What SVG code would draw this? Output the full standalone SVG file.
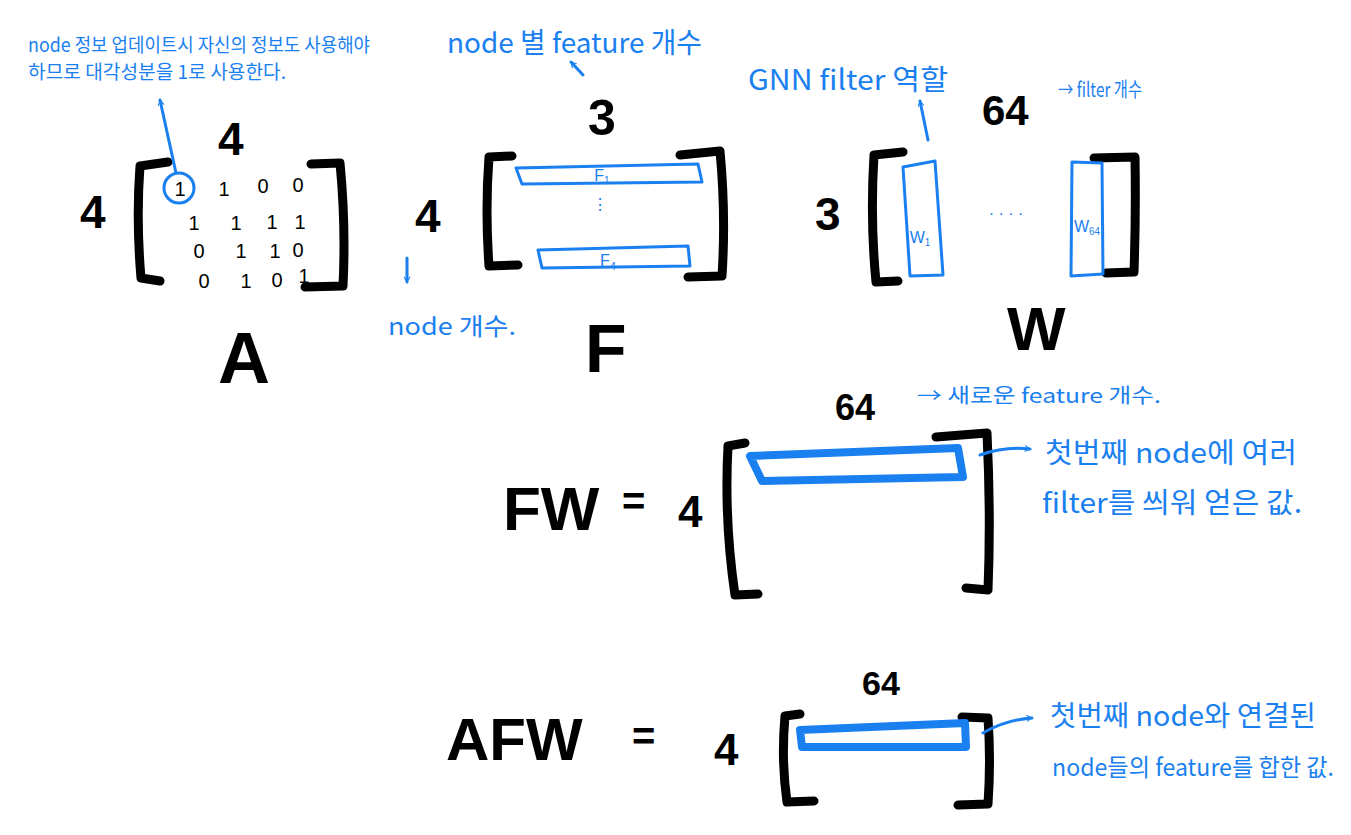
<svg xmlns="http://www.w3.org/2000/svg" width="1351" height="835" viewBox="0 0 1351 835">
<style>
.bk{fill:none;stroke:#000;stroke-width:9;stroke-linecap:round;stroke-linejoin:round}
.bl{fill:none;stroke:#1a80f0;stroke-width:3;stroke-linecap:round;stroke-linejoin:round}
.blt{fill:none;stroke:#1a80f0;stroke-width:8;stroke-linecap:round;stroke-linejoin:round}
.note{fill:#1a80f0;font-family:"Noto Sans CJK KR","Noto Sans",sans-serif;}
.big{fill:#000;font-family:"Liberation Sans","Noto Sans",sans-serif;font-weight:bold}
.ent{fill:#000;font-family:"Liberation Sans",sans-serif;font-size:20px;text-anchor:middle}
.sub{fill:#1a80f0;font-family:"Liberation Sans",sans-serif;font-size:16px;text-anchor:middle}
</style>
<rect width="1351" height="835" fill="#fff"/>
<defs>
<marker id="ah" viewBox="0 0 10 10" refX="8" refY="5" markerWidth="7" markerHeight="7" orient="auto-start-reverse" markerUnits="userSpaceOnUse">
<path d="M1,1 L8,5 L1,9" fill="none" stroke="#1a80f0" stroke-width="1.6" stroke-linecap="round"/>
</marker>
</defs>

<g id="matrix-A">
<path class="bk" d="M168,162 L140,166 Q136,220 141,278 L160,281"/>
<path class="bk" d="M311,164 L340,163 Q346,225 343,286 L305,287"/>
<text class="big" x="218" y="155" font-size="46">4</text>
<text class="big" x="80" y="228" font-size="46">4</text>
<text class="big" x="218" y="383" font-size="72">A</text>
<text class="ent" x="180" y="196">1</text>
<text class="ent" x="224" y="196">1</text>
<text class="ent" x="263" y="193">0</text>
<text class="ent" x="298" y="192">0</text>
<text class="ent" x="194" y="230">1</text>
<text class="ent" x="236" y="230">1</text>
<text class="ent" x="272" y="229">1</text>
<text class="ent" x="300" y="229">1</text>
<text class="ent" x="199" y="258">0</text>
<text class="ent" x="241" y="258">1</text>
<text class="ent" x="275" y="258">1</text>
<text class="ent" x="298" y="257">0</text>
<text class="ent" x="204" y="288">0</text>
<text class="ent" x="246" y="288">1</text>
<text class="ent" x="277" y="287">0</text>
<text class="ent" x="304" y="283">1</text>
<circle class="bl" cx="179" cy="188" r="15"/>
</g>

<g id="matrix-F">
<path class="bk" d="M512,156 L489,157 Q485,210 489,266 L518,265"/>
<path class="bk" d="M680,155 L720,151 Q726,215 722,276 L688,277"/>
<text class="big" x="588" y="135" font-size="50">3</text>
<text class="big" x="415" y="232" font-size="46">4</text>
<text class="big" x="585" y="372" font-size="68">F</text>
<path class="bl" d="M516,168 L698,164 L702,182 L522,184 Z"/>
<text class="sub" x="602" y="181">F<tspan font-size="10" dy="3">1</tspan></text>
<text class="sub" x="600" y="210" font-size="14">⋮</text>
<path class="bl" d="M538,250 L688,246 L690,266 L542,268 Z"/>
<text class="sub" x="608" y="266">F<tspan font-size="11" dy="4">4</tspan></text>
</g>

<g id="matrix-W">
<path class="bk" d="M903,152 L874,155 Q870,220 876,282 L898,281"/>
<path class="bk" d="M1094,158 L1135,157 Q1136,215 1134,272 L1106,273"/>
<text class="big" x="815" y="230" font-size="46">3</text>
<text class="big" x="982" y="125" font-size="42">64</text>
<text class="big" x="1007" y="350" font-size="62">W</text>
<path class="bl" d="M903,167 L935,161 L943,275 L910,276 Z"/>
<text class="sub" x="920" y="243">W<tspan font-size="10" dy="3">1</tspan></text>
<text class="sub" x="1006" y="219" font-size="14">· · · ·</text>
<path class="bl" d="M1072,162 L1102,163 L1103,274 L1071,276 Z"/>
<text class="sub" x="1087" y="232" font-size="15">W<tspan font-size="10" dy="3">64</tspan></text>
</g>

<g id="matrix-FW">
<text class="big" x="503" y="530" font-size="62">FW</text>
<text class="big" x="622" y="515" font-size="40">=</text>
<text class="big" x="678" y="527" font-size="44">4</text>
<path class="bk" d="M745,443 L728,446 Q724,520 735,595 L758,594"/>
<path class="bk" d="M936,437 L987,433 Q991,515 988,590 L966,588"/>
<text class="big" x="835" y="420" font-size="36">64</text>
<path class="blt" d="M750,456 L958,448 L963,477 L762,481 Z"/>
</g>

<g id="matrix-AFW">
<text class="big" x="446" y="760" font-size="60">AFW</text>
<text class="big" x="632" y="750" font-size="40">=</text>
<text class="big" x="714" y="765" font-size="44">4</text>
<path class="bk" d="M800,714 L785,716 Q781,760 787,802 L814,801"/>
<path class="bk" d="M962,717 L988,718 Q991,760 988,804 L958,805"/>
<text class="big" x="862" y="695" font-size="34">64</text>
<path class="blt" d="M800,730 L965,723 L966,747 L802,747 Z"/>
</g>

<g id="notes">
<text class="note" x="28" y="52" font-size="19" textLength="342" lengthAdjust="spacingAndGlyphs">node 정보 업데이트시 자신의 정보도 사용해야</text>
<text class="note" x="28" y="79" font-size="19" textLength="258" lengthAdjust="spacingAndGlyphs">하므로 대각성분을 1로 사용한다.</text>
<text class="note" x="447" y="53" font-size="28" textLength="255" lengthAdjust="spacingAndGlyphs">node 별 feature 개수</text>
<text class="note" x="748" y="90" font-size="28" textLength="200" lengthAdjust="spacingAndGlyphs">GNN filter 역할</text>
<text class="note" x="1058" y="97" font-size="20" textLength="84" lengthAdjust="spacingAndGlyphs">→ filter 개수</text>
<text class="note" x="388" y="335" font-size="24" textLength="128" lengthAdjust="spacingAndGlyphs">node 개수.</text>
<text class="note" x="917" y="403" font-size="20" textLength="244" lengthAdjust="spacingAndGlyphs">→ 새로운 feature 개수.</text>
<text class="note" x="1045" y="463" font-size="28" textLength="252" lengthAdjust="spacingAndGlyphs">첫번째 node에 여러</text>
<text class="note" x="1042" y="513" font-size="28" textLength="260" lengthAdjust="spacingAndGlyphs">filter를 씌워 얻은 값.</text>
<text class="note" x="1050" y="726" font-size="28" textLength="266" lengthAdjust="spacingAndGlyphs">첫번째 node와 연결된</text>
<text class="note" x="1052" y="776" font-size="24" textLength="282" lengthAdjust="spacingAndGlyphs">node들의 feature를 합한 값.</text>
</g>

<g id="connectors">
<path class="bl" d="M176,173 L160,100" marker-end="url(#ah)"/>
<path class="bl" d="M583,75 L571,62" marker-end="url(#ah)"/>
<path class="bl" d="M407,258 L407,282" marker-end="url(#ah)"/>
<path class="bl" d="M928,140 L920,101" marker-end="url(#ah)"/>
<path class="bl" d="M980,455 Q1005,446 1030,449" marker-end="url(#ah)"/>
<path class="bl" d="M983,733 Q1005,720 1032,718" marker-end="url(#ah)"/>
</g>
</svg>
